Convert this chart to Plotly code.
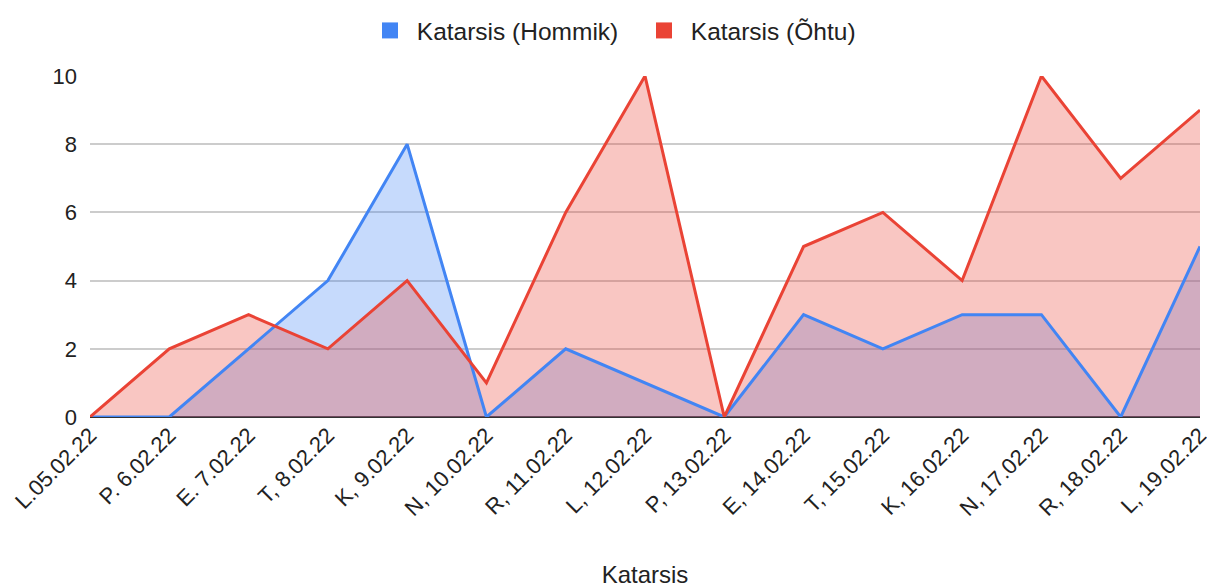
import plotly.graph_objects as go

categories = ["L.05.02.22", "P. 6.02.22", "E. 7.02.22", "T, 8.02.22", "K, 9.02.22",
              "N, 10.02.22", "R, 11.02.22", "L, 12.02.22", "P, 13.02.22", "E, 14.02.22",
              "T, 15.02.22", "K, 16.02.22", "N, 17.02.22", "R, 18.02.22", "L, 19.02.22"]
hommik = [0, 0, 2, 4, 8, 0, 2, 1, 0, 3, 2, 3, 3, 0, 5]
ohtu = [0, 2, 3, 2, 4, 1, 6, 10, 0, 5, 6, 4, 10, 7, 9]
series_names = ["Katarsis (Hommik)", "Katarsis (Õhtu)"]
series_colors = ["#4285F4", "#EA4335"]
fill_colors = ["rgba(66,133,244,0.3)", "rgba(234,67,53,0.3)"]
series_values = [hommik, ohtu]

fig = go.Figure()
# filled areas first
for vals, name, fcol in zip(series_values, series_names, fill_colors):
    fig.add_trace(go.Scatter(x=categories, y=vals, name=name, mode="none",
                             fill="tozeroy", fillcolor=fcol, showlegend=False,
                             hoverinfo="skip"))
# lines on top of all fills
for vals, name, col in zip(series_values, series_names, series_colors):
    fig.add_trace(go.Scatter(x=categories, y=vals, name=name, mode="lines",
                             line=dict(color=col, width=3), showlegend=False))
# legend entries with square swatches
for name, col in zip(series_names, series_colors):
    fig.add_trace(go.Scatter(x=[None], y=[None], name="\u00a0" + name, mode="markers",
                             marker=dict(symbol="square", size=24, color=col,
                                         line=dict(width=0)),
                             showlegend=True))

fig.update_layout(
    width=1207, height=580,
    margin=dict(l=82, r=15, t=68, b=171, autoexpand=False),
    paper_bgcolor="white", plot_bgcolor="white",
    font=dict(family="Liberation Sans, Arial, sans-serif", color="#222222", size=20),
    legend=dict(orientation="h", x=0.4991, xanchor="center", xref="paper",
                y=1.0, yanchor="top", yref="container",
                font=dict(size=24.5), itemsizing="trace",
                traceorder="normal", entrywidth=229, entrywidthmode="pixels"),
    showlegend=True,
)
fig.update_xaxes(tickangle=-45, tickfont=dict(size=22), showgrid=False,
                 showline=False, ticks="", range=[0, 14], automargin=False,
                 title=dict(text="Katarsis", font=dict(size=24), standoff=59))
fig.update_yaxes(range=[0, 10], dtick=2, showgrid=True, gridcolor="#cccccc", gridwidth=1.5,
                 zeroline=True, zerolinecolor="#333333", zerolinewidth=1.5, automargin=False,
                 tickfont=dict(size=22), ticklabelstandoff=12)

fig.write_html("out.html")
